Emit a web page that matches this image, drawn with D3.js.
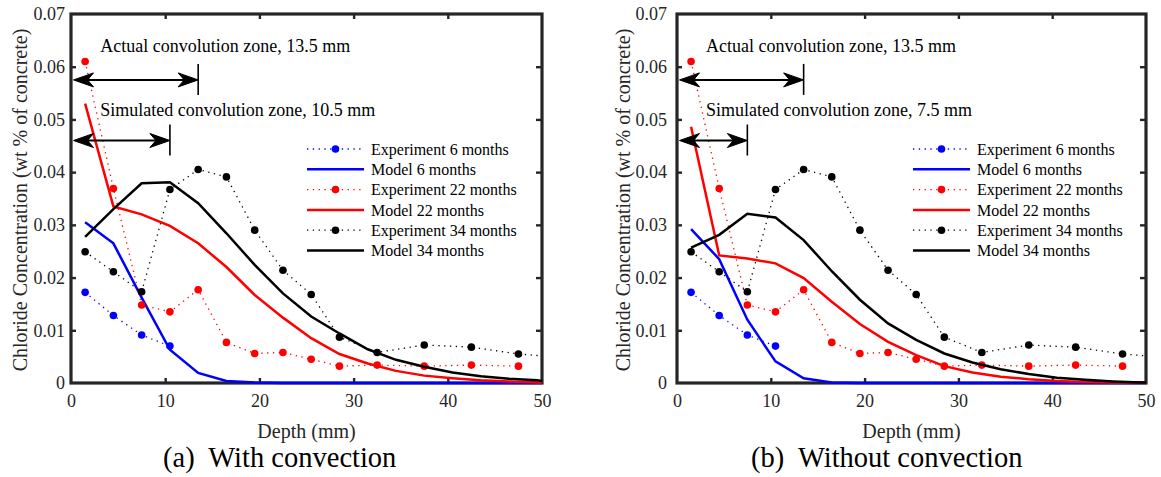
<!DOCTYPE html>
<html>
<head>
<meta charset="utf-8">
<script src="https://cdn.jsdelivr.net/npm/d3@7"></script>
<style>
  body { margin: 0; background: #fff; }
</style>
</head>
<body>
<svg id="fig" width="1161" height="477"></svg>
<script>
// ---- Data -------------------------------------------------------------
// Measured chloride profiles (same specimens in both panels)
const depthExp   = [1.5, 4.5, 7.5, 10.5, 13.5, 16.5, 19.5, 22.5, 25.5, 28.5, 32.5, 37.5, 42.5, 47.5];
const depthExp6  = [1.5, 4.5, 7.5, 10.5];
const depthExp34 = [1.5, 4.5, 7.5, 10.5, 13.5, 16.5, 19.5, 22.5, 25.5, 28.5, 32.5, 37.5, 42.5, 47.5, 52.5];
const exp6  = [0.0172, 0.0128, 0.0091, 0.0070];
const exp22 = [0.0610, 0.0369, 0.0148, 0.0135, 0.0177, 0.0077, 0.0056, 0.0058, 0.0045, 0.0032, 0.0034, 0.0032, 0.0034, 0.0032];
const exp34 = [0.0249, 0.0211, 0.0173, 0.0367, 0.0405, 0.0391, 0.0290, 0.0214, 0.0168, 0.0087, 0.0058, 0.0072, 0.0068, 0.0055, 0.0048];

// Simulated profiles
const depthModel = [1.5, 4.5, 7.5, 10.5, 13.5, 16.5, 19.5, 22.5, 25.5, 28.5, 31.5, 34.5, 37.5, 40.5, 43.5, 46.5, 49.5, 50];
const convModel6  = [0.0305, 0.0265, 0.0162, 0.0063, 0.0019, 0.0004, 0.0001, 0, 0, 0, 0, 0, 0, 0, 0, 0, 0, 0];
const convModel22 = [0.0530, 0.0335, 0.0320, 0.0298, 0.0265, 0.0220, 0.0167, 0.0124, 0.0085, 0.0055, 0.0037, 0.0023, 0.0014, 0.0009, 0.0005, 0.0003, 0.0001, 0.0001];
const convModel34 = [0.0277, 0.0330, 0.0379, 0.0381, 0.0341, 0.0284, 0.0224, 0.0170, 0.0126, 0.0094, 0.0064, 0.0044, 0.0031, 0.0020, 0.0013, 0.0008, 0.0005, 0.0004];
const diffModel6  = [0.0292, 0.0235, 0.0120, 0.0041, 0.0009, 0.0001, 0, 0, 0, 0, 0, 0, 0, 0, 0, 0, 0, 0];
const diffModel22 = [0.0486, 0.0242, 0.0236, 0.0227, 0.0199, 0.0154, 0.0112, 0.0078, 0.0053, 0.0032, 0.0020, 0.0012, 0.0007, 0.0004, 0.0002, 0.0001, 0.0001, 0.0000];
const diffModel34 = [0.0257, 0.0281, 0.0321, 0.0314, 0.0271, 0.0212, 0.0158, 0.0113, 0.0082, 0.0056, 0.0039, 0.0026, 0.0017, 0.0010, 0.0006, 0.0003, 0.0001, 0.0001];

// Convolution zone annotations: depth extent (mm) and level
const convZones = [13.5, 10.5];
const diffZones = [13.5, 7.5];
const zoneLevels = [0.0575, 0.046];
const zoneNames = ["Actual convolution zone", "Simulated convolution zone"];

// Axes
const xTicks = [0, 10, 20, 30, 40, 50];
const yTicks = [0, 0.01, 0.02, 0.03, 0.04, 0.05, 0.06, 0.07];
const yTickLabels = ["0", "0.01", "0.02", "0.03", "0.04", "0.05", "0.06", "0.07"];
const legendLabels = ["Experiment 6 months", "Model 6 months", "Experiment 22 months",
                      "Model 22 months", "Experiment 34 months", "Model 34 months"];
const seriesColors = ["#0000ff", "#ff0000", "#000000"];

// ---- Drawing ---------------------------------------------------------
const FONT = "'Liberation Serif', 'Times New Roman', Times, serif";
const svg = d3.select("#fig");
const axisColor = "#262626";

const panels = [
  { id: "a", left: 71, right: 542, top: 14, bottom: 383, tickGap: 6, yLabelX: 27,
    models: [convModel6, convModel22, convModel34], zones: convZones,
    caption: "(a)  With convection", captionX: 163 },
  { id: "b", left: 677, right: 1146, top: 14, bottom: 383, tickGap: 10, yLabelX: 630,
    models: [diffModel6, diffModel22, diffModel34], zones: diffZones,
    caption: "(b)  Without convection", captionX: 751 }
];

function arrowHead(g, xTip, y, dir) {
  // filled arrowhead with a notched back; dir = +1 points right, -1 points left
  const L = 20, W = 7, N = 6;
  const p = d3.path();
  p.moveTo(xTip, y);
  p.lineTo(xTip - dir * L, y - W);
  p.lineTo(xTip - dir * (L - N), y);
  p.lineTo(xTip - dir * L, y + W);
  p.closePath();
  g.append("path").attr("d", p.toString()).attr("fill", "#000")
    .attr("stroke", "#000").attr("stroke-width", 1).attr("stroke-linejoin", "miter");
}

panels.forEach(P => {
  const x = d3.scaleLinear().domain([0, 50]).range([P.left, P.right]);
  const y = d3.scaleLinear().domain([0, 0.07]).range([P.bottom, P.top]);
  const g = svg.append("g").attr("class", "panel-" + P.id);

  // frame
  g.append("rect").attr("x", P.left).attr("y", P.top)
    .attr("width", P.right - P.left).attr("height", P.bottom - P.top)
    .attr("fill", "none").attr("stroke", axisColor).attr("stroke-width", 3.2);

  const styleAxis = sel => {
    sel.select(".domain").remove();
    sel.selectAll(".tick line").attr("stroke", axisColor).attr("stroke-width", 2.4);
    sel.selectAll("text").attr("fill", axisColor).style("font-size", "18px");
  };

  g.append("g").attr("transform", `translate(0,${P.bottom})`)
    .call(d3.axisBottom(x).tickValues(xTicks).tickSize(-5).tickPadding(11.2).tickFormat(d3.format("d")))
    .call(styleAxis);
  g.append("g").attr("transform", `translate(0,${P.top})`)
    .call(d3.axisTop(x).tickValues(xTicks.slice(1, -1)).tickSize(-5).tickFormat(""))
    .call(styleAxis);
  g.append("g").attr("transform", `translate(${P.left},0)`)
    .call(d3.axisLeft(y).tickValues(yTicks).tickSize(-5).tickPadding(P.tickGap)
      .tickFormat((d, i) => yTickLabels[i]))
    .call(styleAxis);
  g.append("g").attr("transform", `translate(${P.right},0)`)
    .call(d3.axisRight(y).tickValues(yTicks.slice(1, -1)).tickSize(-6).tickFormat(""))
    .call(styleAxis);
  // no tick stubs on the frame corners
  g.selectAll(".tick line").filter(d => d === 0 || d === 50 || d === 0.07).remove();

  // axis titles
  g.append("text")
    .attr("x", (P.left + P.right) / 2).attr("y", 438)
    .attr("text-anchor", "middle").style("font-size", "20px").attr("fill", axisColor)
    .text("Depth (mm)");
  g.append("text")
    .attr("transform", `translate(${P.yLabelX},200) rotate(-90)`)
    .attr("text-anchor", "middle").style("font-size", "20px").attr("fill", axisColor)
    .text("Chloride Concentration (wt % of concrete)");

  // caption
  g.append("text").attr("x", P.captionX).attr("y", 467)
    .style("font-size", "28.5px").attr("fill", "#000").style("white-space", "pre")
    .text(P.caption);

  // clipped data layer
  const clipId = "clip-" + P.id;
  svg.append("clipPath").attr("id", clipId).append("rect")
    .attr("x", P.left).attr("y", P.top - 6)
    .attr("width", P.right - P.left).attr("height", P.bottom - P.top + 8);
  const data = g.append("g").attr("clip-path", `url(#${clipId})`);

  const line = d3.line().x(d => x(d[0])).y(d => y(d[1]));
  const expSets = [[depthExp6, exp6], [depthExp, exp22], [depthExp34, exp34]];

  expSets.forEach(([dx, vals], k) => {
    const pts = dx.map((d, i) => [d, vals[i]]);
    data.append("path").datum(pts).attr("d", line)
      .attr("fill", "none").attr("stroke", seriesColors[k]).attr("stroke-width", 1.3)
      .attr("stroke-dasharray", "1.3,4.5");
    data.selectAll(null).data(pts).enter().append("circle")
      .attr("cx", d => x(d[0])).attr("cy", d => y(d[1])).attr("r", 3.8)
      .attr("fill", seriesColors[k]);
    const model = P.models[k].map((v, i) => [depthModel[i], v]);
    data.append("path").datum(model).attr("d", line)
      .attr("fill", "none").attr("stroke", seriesColors[k]).attr("stroke-width", 2.5)
      .attr("stroke-linejoin", "miter");
  });

  // convolution zone annotations
  P.zones.forEach((z, i) => {
    const yy = y(zoneLevels[i]);
    const x0 = x(0) + 2.5, x1 = x(z);
    g.append("line").attr("x1", x0 + 8).attr("x2", x1 - 8).attr("y1", yy).attr("y2", yy)
      .attr("stroke", "#000").attr("stroke-width", 2);
    arrowHead(g, x0, yy, -1);
    arrowHead(g, x1, yy, 1);
    g.append("line").attr("x1", x1).attr("x2", x1)
      .attr("y1", yy - 16).attr("y2", yy + 15).attr("stroke", "#000").attr("stroke-width", 1.6);
    g.append("text").attr("x", x(3.1)).attr("y", yy - (i === 0 ? 28 : 25))
      .style("font-size", "18px").attr("fill", "#000")
      .text(`${zoneNames[i]}, ${z} mm`);
  });

  // legend
  const lgX = P.left + 236, lgY = 149, step = 20.3, lineLen = 57;
  legendLabels.forEach((lab, i) => {
    const k = Math.floor(i / 2), isExp = i % 2 === 0;
    const yy = lgY + i * step;
    g.append("line").attr("x1", lgX).attr("x2", lgX + lineLen).attr("y1", yy).attr("y2", yy)
      .attr("stroke", seriesColors[k]).attr("stroke-width", isExp ? 1.3 : 2.5)
      .attr("stroke-dasharray", isExp ? "1.3,4.5" : null);
    if (isExp) {
      g.append("circle").attr("cx", lgX + lineLen / 2).attr("cy", yy).attr("r", 3.8)
        .attr("fill", seriesColors[k]);
    }
    g.append("text").attr("x", lgX + lineLen + 7).attr("y", yy).attr("dy", "0.35em")
      .style("font-size", "16px").attr("fill", "#000").text(lab);
  });
});

// one serif face for every label
svg.selectAll("text").style("font-family", FONT);
</script>
</body>
</html>
